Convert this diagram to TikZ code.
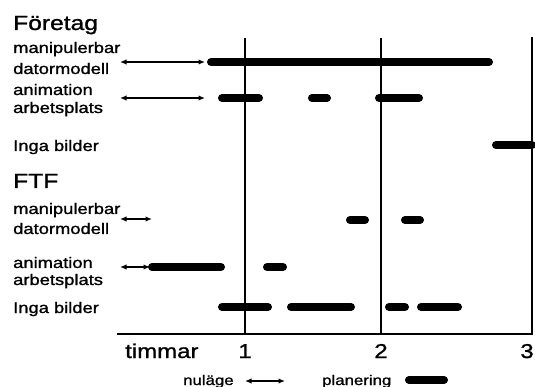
\documentclass[tikz,border=0pt]{standalone}
\usepackage{fontspec}
\setmainfont{Liberation Sans}[FakeStretch=1.2,FakeBold=1.2]
\usetikzlibrary{arrows.meta}
\begin{document}
\begin{tikzpicture}[x=1pt,y=-1pt,
 bar/.style={line width=8pt,line cap=round},
 gridline/.style={line width=1.2pt},
 axisline/.style={line width=1.6pt},
 nu/.style={line width=1.3pt,{Latex[length=6.5pt,width=5.5pt]}-{Latex[length=6.5pt,width=5.5pt]}},
 lbl/.style={anchor=base west,inner sep=0pt,font=\fontsize{15.3}{17}\selectfont},
 ttl/.style={anchor=base west,inner sep=0pt,font=\fontsize{20.5}{24}\selectfont},
 num/.style={anchor=base,inner sep=0pt,font=\fontsize{20}{24}\selectfont},
 leg/.style={anchor=base west,inner sep=0pt,font=\fontsize{14}{16}\selectfont}]
\useasboundingbox (0,0) rectangle (535,387);
% titles
\node[ttl] (t1) at (13,30) {Företag};
\node[ttl] (t2) at (13,188) {FTF};
% labels Företag
\node[lbl] (a1) at (13,53) {manipulerbar};
\node[lbl] (a2) at (13,74) {datormodell};
\node[lbl] (b1) at (13,95) {animation};
\node[lbl] (b2) at (13,113) {arbetsplats};
\node[lbl] (c1) at (13,151) {Inga bilder};
% labels FTF
\node[lbl] (d1) at (13,214) {manipulerbar};
\node[lbl] (d2) at (13,234) {datormodell};
\node[lbl] (e1) at (13,268) {animation};
\node[lbl] (e2) at (13,285) {arbetsplats};
\node[lbl] (f1) at (13,313) {Inga bilder};
% grid
\draw[gridline] (245,38) -- (245,334);
\draw[gridline] (381,38) -- (381,334);
\draw[gridline] (532,37) -- (532,334);
\draw[axisline] (117,334) -- (533,334);
% axis labels
\node[num,anchor=base west] (tm) at (125,358) {timmar};
\node[num] (n1) at (245,358) {1};
\node[num] (n2) at (381,358) {2};
\node[num] (n3) at (527,358) {3};
% Företag rows
\draw[nu] (120,62) -- (205,62);
\draw[bar] (211,62) -- (489,62);
\draw[nu] (120,98) -- (205,98);
\draw[bar] (222,98) -- (259,98);
\draw[bar] (312,98) -- (327,98);
\draw[bar] (379,98) -- (419,98);
\draw[bar] (496,145) -- (532,145);
% FTF rows
\draw[nu] (120,219) -- (152,219);
\draw[bar] (350,220) -- (365,220);
\draw[bar] (405,220) -- (420,220);
\draw[nu] (120,267) -- (150,267);
\draw[bar] (152,267) -- (221,267);
\draw[bar] (267,267) -- (283,267);
\draw[bar] (222,307) -- (268,307);
\draw[bar] (291,307) -- (351,307);
\draw[bar] (389,307) -- (405,307);
\draw[bar] (421,307) -- (458,307);
% legend
\node[leg] (l1) at (183,385) {nuläge};
\draw[nu] (245,381) -- (285,381);
\node[leg] (l2) at (322,385) {planering};
\draw[bar] (409,380) -- (444,380);
\end{tikzpicture}
\end{document}
